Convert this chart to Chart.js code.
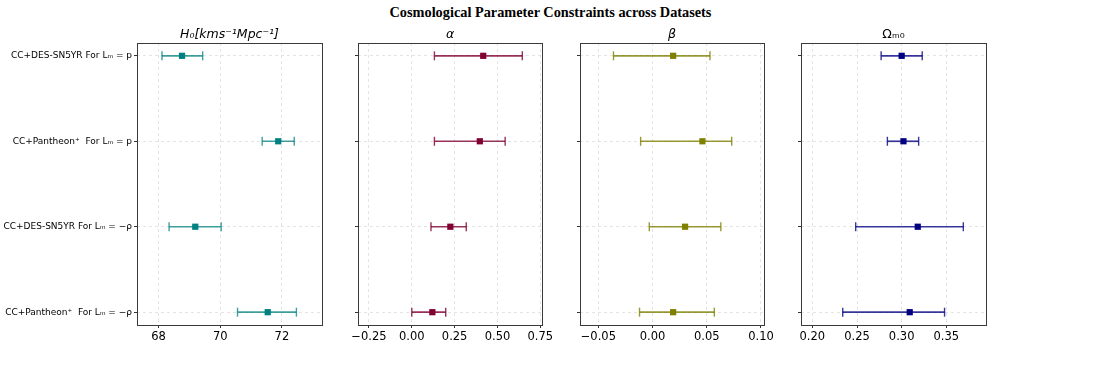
<!DOCTYPE html>
<html lang="en">
  <head>
    <meta charset="UTF-8" />
    <title>Cosmological Parameter Constraints</title>
    <style>
      body {
        margin: 0;
        padding: 0;
        background: #fff;
        width: 1096px;
        height: 366px;
        position: relative;
        overflow: hidden;
      }
      .title {
        position: absolute;
        left: 0;
        width: 1101px;
        top: 4px;
        text-align: center;
        font-family: "Liberation Serif", "Times New Roman", serif;
        font-weight: bold;
        font-size: 14.3px;
      }
      canvas {
        position: absolute;
        top: 0;
      }
    </style>
  </head>
  <body>
    <div class="title">Cosmological Parameter Constraints across Datasets</div>
    <canvas id="c0" width="342" height="366" style="left: 0px"></canvas>
    <canvas id="c1" width="224" height="366" style="left: 338px"></canvas>
    <canvas id="c2" width="224" height="366" style="left: 560px"></canvas>
    <canvas id="c3" width="225" height="366" style="left: 781px"></canvas>

    <script src="https://cdn.jsdelivr.net/npm/chart.js"></script>
    <script>
      // dataset rows, top to bottom
      const rowLabels = [
        "CC+DES-SN5YR For Lₘ = p",
        "CC+Pantheon⁺  For Lₘ = p",
        "CC+DES-SN5YR For Lₘ = −ρ",
        "CC+Pantheon⁺  For Lₘ = −ρ",
      ];

      // H0
      const h0Mean = [68.76, 71.88, 69.19, 71.54];
      const h0Low = [68.11, 71.36, 68.34, 70.56];
      const h0High = [69.43, 72.4, 70.03, 72.47];
      const h0Ticks = [68, 70, 72];
      const h0TickLabels = ["68", "70", "72"];

      // alpha
      const alphaMean = [0.417, 0.397, 0.225, 0.12];
      const alphaLow = [0.132, 0.132, 0.112, 0.0];
      const alphaHigh = [0.645, 0.545, 0.318, 0.198];
      const alphaTicks = [-0.25, 0, 0.25, 0.5, 0.75];
      const alphaTickLabels = ["−0.25", "0.00", "0.25", "0.50", "0.75"];

      // beta
      const betaMean = [0.019, 0.046, 0.03, 0.019];
      const betaLow = [-0.036, -0.011, -0.003, -0.012];
      const betaHigh = [0.053, 0.073, 0.063, 0.057];
      const betaTicks = [-0.05, 0, 0.05, 0.1];
      const betaTickLabels = ["−0.05", "0.00", "0.05", "0.10"];

      // Omega_m0
      const omMean = [0.3, 0.302, 0.318, 0.309];
      const omLow = [0.277, 0.284, 0.2485, 0.234];
      const omHigh = [0.323, 0.319, 0.369, 0.348];
      const omTicks = [0.2, 0.25, 0.3, 0.35];
      const omTickLabels = ["0.20", "0.25", "0.30", "0.35"];

      const panels = [
        {
          id: "c0", title: "H₀[kms⁻¹Mpc⁻¹]", italic: true,
          mean: h0Mean, low: h0Low, high: h0High,
          ticks: h0Ticks, tickLabels: h0TickLabels,
          min: 67.3, max: 73.3, yWidth: 137, showY: true,
          marker: "#008080", bar: "rgba(0,128,128,0.75)",
        },
        {
          id: "c1", title: "α", italic: true,
          mean: alphaMean, low: alphaLow, high: alphaHigh,
          ticks: alphaTicks, tickLabels: alphaTickLabels,
          min: -0.314, max: 0.76, yWidth: 20, showY: false,
          marker: "#800033", bar: "rgba(128,0,51,0.8)",
        },
        {
          id: "c2", title: "β", italic: true,
          mean: betaMean, low: betaLow, high: betaHigh,
          ticks: betaTicks, tickLabels: betaTickLabels,
          min: -0.0669, max: 0.1028, yWidth: 20, showY: false,
          marker: "#808000", bar: "rgba(128,128,0,0.8)",
        },
        {
          id: "c3", title: "Ωₘ₀", italic: false,
          mean: omMean, low: omLow, high: omHigh,
          ticks: omTicks, tickLabels: omTickLabels,
          min: 0.1873, max: 0.3944, yWidth: 20, showY: false,
          marker: "#000080", bar: "rgba(0,0,128,0.78)",
        },
      ];

      const frame = {
        id: "frame",
        afterDraw(chart, args, opts) {
          const { ctx, chartArea } = chart;
          ctx.save();
          ctx.strokeStyle = "#3a3a3a";
          ctx.lineWidth = 1;
          ctx.strokeRect(
            Math.round(chartArea.left) + 0.5,
            Math.round(chartArea.top) + 0.5,
            Math.round(chartArea.right - chartArea.left),
            Math.round(chartArea.bottom - chartArea.top)
          );
          ctx.fillStyle = "#000";
          ctx.font = (opts.italic ? "italic " : "") + "12.5px 'DejaVu Sans'";
          ctx.textAlign = "center";
          ctx.textBaseline = "alphabetic";
          ctx.fillText(opts.text, (chartArea.left + chartArea.right) / 2, chartArea.top - 5);
          ctx.restore();
        },
      };

      panels.forEach((p) => {
        const datasets = p.mean.map((m, i) => ({
          type: "line",
          data: [
            { x: p.low[i], y: i },
            { x: p.high[i], y: i },
          ],
          borderColor: p.bar,
          borderWidth: 1.7,
          pointStyle: "line",
          rotation: 90,
          pointRadius: 4.5,
          pointBorderColor: p.bar,
          pointBorderWidth: 1.4,
          showLine: true,
          fill: false,
        }));
        datasets.push({
          type: "scatter",
          data: p.mean.map((m, i) => ({ x: m, y: i })),
          pointStyle: "rect",
          pointRadius: 4.4,
          backgroundColor: p.marker,
          borderColor: p.marker,
          borderWidth: 0,
        });

        new Chart(document.getElementById(p.id).getContext("2d"), {
          type: "scatter",
          data: { datasets: datasets },
          plugins: [frame],
          options: {
            responsive: false,
            animation: false,
            layout: { padding: { top: 43, right: 20, left: 0, bottom: 0 } },
            scales: {
              x: {
                type: "linear",
                min: p.min,
                max: p.max,
                afterBuildTicks: (s) => {
                  s.ticks = p.ticks.map((v) => ({ value: v }));
                },
                afterFit: (s) => {
                  s.height = 41;
                },
                ticks: {
                  callback: (v, idx) => p.tickLabels[idx],
                  color: "#000",
                  font: { family: "DejaVu Sans", size: 11.5 },
                  padding: 2,
                  maxRotation: 0,
                },
                grid: {
                  color: "#dedede",
                  lineWidth: 0.8,
                  tickLength: 3,
                  tickColor: "#333",
                  tickWidth: 1,
                  tickBorderDash: [],
                },
                border: { display: false, dash: [3, 3] },
              },
              y: {
                type: "linear",
                min: -0.15,
                max: 3.15,
                reverse: true,
                afterBuildTicks: (s) => {
                  s.ticks = rowLabels.map((l, i) => ({ value: i }));
                },
                afterFit: (s) => {
                  s.width = p.yWidth;
                },
                ticks: {
                  callback: (v, idx) => (p.showY ? rowLabels[idx] : ""),
                  color: "#000",
                  font: { family: "DejaVu Sans", size: 9 },
                  padding: 2,
                },
                grid: {
                  color: "#dedede",
                  lineWidth: 0.8,
                  tickLength: 3,
                  tickColor: "#333",
                  tickWidth: 1,
                  tickBorderDash: [],
                },
                border: { display: false, dash: [3, 3] },
              },
            },
            plugins: {
              legend: { display: false },
              tooltip: { enabled: false },
              frame: { text: p.title, italic: p.italic },
            },
          },
        });
      });
    </script>
  </body>
</html>
